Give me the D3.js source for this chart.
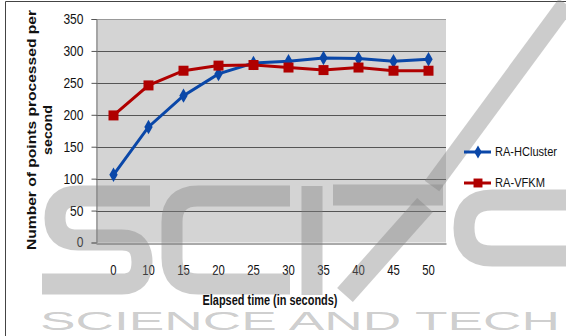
<!DOCTYPE html>
<html>
<head>
<meta charset="utf-8">
<script src="https://cdn.jsdelivr.net/npm/d3@7"></script>
<style>
body { margin: 0; background: #fff; }
svg { display: block; }
text { font-family: "Liberation Sans", Arial, sans-serif; }
</style>
</head>
<body>
<div id="chart"></div>
<script>
// values
var times = ["0", "10", "15", "20", "25", "30", "35", "40", "45", "50"];
var hcluster = [106, 181, 230, 264, 281, 284, 289, 288, 284, 287];
var vfkm = [199, 246, 269, 277, 278, 274, 270, 274, 269, 269];
var yTicks = [0, 50, 100, 150, 200, 250, 300, 350];
var seriesNames = ["RA-HCluster", "RA-VFKM"];

var W = 566, H = 336;
var margin = {top: 19, right: 120, bottom: 94, left: 96};

var svg = d3.select("#chart").append("svg")
	.attr("width", W)
	.attr("height", H);

// outer frame
svg.append("path")
	.attr("d", "M5.5," + H + "V1.5H" + W)
	.attr("fill", "none")
	.attr("stroke", "#444")
	.attr("stroke-width", 1);

var x = d3.scaleBand().domain(times).range([margin.left, W - margin.right]);
var y = d3.scaleLinear().domain([0, 350]).range([H - margin.bottom + 0.5, margin.top]);

var chart = svg.append("g");

// plot area
chart.append("rect")
	.attr("x", margin.left)
	.attr("y", y(350))
	.attr("width", x.range()[1] - margin.left)
	.attr("height", y(0) - y(350))
	.attr("fill", "#d4d4d4");

// gridlines
chart.selectAll(".grid")
	.data(yTicks.slice(1)).enter()
	.append("line")
	.attr("class", "grid")
	.attr("x1", margin.left)
	.attr("x2", x.range()[1])
	.attr("y1", function(d) { return Math.round(y(d)) + 0.5; })
	.attr("y2", function(d) { return Math.round(y(d)) + 0.5; })
	.attr("stroke", function(d) { return d == 350 ? "#999" : "#555"; })
	.attr("stroke-width", 1);

var yAxis = d3.axisLeft(y).tickValues(yTicks).tickSize(5).tickPadding(8);
var gy = chart.append("g")
	.attr("transform", "translate(" + (margin.left + 0.5) + ",0)")
	.call(yAxis);
gy.select(".domain").attr("stroke", "#777");
gy.selectAll("line").attr("stroke", "#555");
gy.selectAll("text")
	.attr("font-size", "14px")
	.attr("fill", "#111")
	.attr("textLength", function(d) { return String(d).length * 6.7; })
	.attr("lengthAdjust", "spacingAndGlyphs");

var xAxis = d3.axisBottom(x).tickSize(0).tickPadding(22);
var gx = chart.append("g")
	.attr("transform", "translate(0," + (Math.round(y(0)) + 0.5) + ")")
	.call(xAxis);
gx.select(".domain").attr("stroke", "#555");
gx.selectAll("text")
	.attr("font-size", "14px")
	.attr("fill", "#111")
	.attr("textLength", function(d) { return d.length * 6.3; })
	.attr("lengthAdjust", "spacingAndGlyphs");

// watermark (drawn under the texts)
var wm = svg.append("g")
	.attr("fill", "none")
	.attr("stroke", "#808080")
	.attr("stroke-opacity", 0.4)
	.attr("stroke-width", 21);
wm.append("path").attr("d", "M150,196H78Q55,196 55,218Q55,240 78,240H122Q142,240 142,262Q142,284 122,284H42");
wm.append("path").attr("d", "M290,196H198Q172,196 172,222V258Q172,284 198,284H290");
wm.append("path").attr("d", "M312,186V295");
wm.append("path").attr("d", "M333,195H443");
wm.append("path").attr("d", "M425,205L345,295");
wm.append("path").attr("d", "M566,4L432,186").attr("stroke-width", 18);
wm.append("path").attr("d", "M566,200H492Q464,200 464,228Q464,256 492,256H566");
svg.append("text")
	.attr("x", 40).attr("y", 330)
	.attr("textLength", 520)
	.attr("lengthAdjust", "spacingAndGlyphs")
	.attr("font-size", "25px")
	.attr("fill", "#808080")
	.attr("fill-opacity", 0.4)
	.text("SCIENCE AND TECH");

// axis titles
svg.append("text")
	.attr("x", 270)
	.attr("y", 305)
	.attr("text-anchor", "middle")
	.attr("font-weight", "bold")
	.attr("font-size", "14px")
	.attr("fill", "#111")
	.attr("textLength", 135)
	.attr("lengthAdjust", "spacingAndGlyphs")
	.text("Elapsed time (in seconds)");

var yTitle = svg.append("text")
	.attr("transform", "translate(39,130) rotate(-90)")
	.attr("text-anchor", "middle")
	.attr("font-weight", "bold")
	.attr("font-size", "13px")
	.attr("fill", "#111");
yTitle.append("tspan").attr("x", 0).attr("y", -3)
	.attr("textLength", 240).attr("lengthAdjust", "spacingAndGlyphs")
	.text("Number of points processed per");
yTitle.append("tspan").attr("x", 0).attr("y", 13)
	.attr("textLength", 50).attr("lengthAdjust", "spacingAndGlyphs")
	.text("second");

// series
var series = [
	{name: seriesNames[0], values: hcluster, color: "#0a47a8", marker: "diamond", width: 62},
	{name: seriesNames[1], values: vfkm, color: "#b00000", marker: "square", width: 50}
];

var line = d3.line()
	.x(function(d, i) { return x(times[i]) + x.bandwidth() / 2; })
	.y(function(d) { return y(d); });

series.forEach(function(s) {
	chart.append("path")
		.datum(s.values)
		.attr("d", line)
		.attr("fill", "none")
		.attr("stroke", s.color)
		.attr("stroke-width", 3);
	chart.selectAll(".m-" + s.marker)
		.data(s.values).enter()
		.append("path")
		.attr("class", "m-" + s.marker)
		.attr("transform", function(d, i) { return "translate(" + (x(times[i]) + x.bandwidth() / 2) + "," + y(d) + ")"; })
		.attr("d", s.marker == "diamond" ? d3.symbol(d3.symbolDiamond, 60)() : d3.symbol(d3.symbolSquare, 100)())
		.attr("fill", s.color);
});

// legend
var legend = svg.append("g");
series.forEach(function(s, i) {
	var ly = 152 + i * 31;
	legend.append("line")
		.attr("x1", 464).attr("x2", 491)
		.attr("y1", ly).attr("y2", ly)
		.attr("stroke", s.color).attr("stroke-width", 3);
	legend.append("path")
		.attr("transform", "translate(478," + ly + ")")
		.attr("d", s.marker == "diamond" ? d3.symbol(d3.symbolDiamond, 50)() : d3.symbol(d3.symbolSquare, 80)())
		.attr("fill", s.color);
	legend.append("text")
		.attr("x", 495).attr("y", ly)
		.attr("dy", "0.35em")
		.attr("font-size", "12.5px")
		.attr("fill", "#111")
		.attr("textLength", s.width)
		.attr("lengthAdjust", "spacingAndGlyphs")
		.text(s.name);
});
</script>
</body>
</html>
